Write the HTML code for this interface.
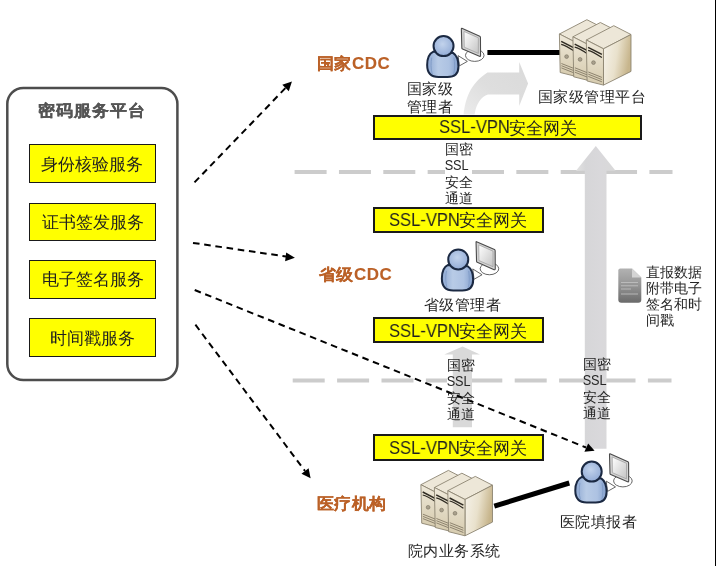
<!DOCTYPE html>
<html>
<head>
<meta charset="utf-8">
<style>
html,body{margin:0;padding:0;background:#fff;}
body{width:716px;height:566px;position:relative;overflow:hidden;font-family:"Liberation Sans",sans-serif;-webkit-font-smoothing:antialiased;}
svg.bg{position:absolute;left:0;top:0;}
.t{position:absolute;white-space:nowrap;line-height:1;will-change:transform;}
.bx{position:absolute;box-sizing:border-box;background:#ffff00;border:1.5px solid #1a1a1a;}
.sb{position:absolute;box-sizing:border-box;background:#ffff00;border:2px solid #1a1a1a;}
.bt{color:#1f1f1f;font-size:17px;}
.lat{color:#1f1f1f;font-size:18.5px;transform:scaleX(0.895);transform-origin:0 0;}
.or{color:#bb6127;font-weight:bold;font-size:16px;letter-spacing:0.5px;transform:scaleX(1.06);transform-origin:0 0;-webkit-text-stroke:0.1px #bb6127;}
.cap{color:#1f1f1f;font-size:15px;letter-spacing:0.45px;}
.sm{position:absolute;will-change:transform;width:40px;color:#262626;font-size:13.5px;line-height:16.1px;text-align:center;white-space:nowrap;}
.ssl{display:inline-block;font-size:15.5px;line-height:16.1px;transform:scaleX(0.82);transform-origin:50% 50%;position:relative;left:-2.2px;top:-0.8px;}
</style>
</head>
<body>
<svg class="bg" width="716" height="566" viewBox="0 0 716 566">
  <defs>
    <linearGradient id="gBody" x1="0" y1="0" x2="1" y2="0">
      <stop offset="0" stop-color="#8ea8d2"/>
      <stop offset="0.35" stop-color="#b8cbe6"/>
      <stop offset="0.7" stop-color="#adc2e2"/>
      <stop offset="1" stop-color="#829ecb"/>
    </linearGradient>
    <radialGradient id="gHead" cx="0.45" cy="0.4" r="0.6">
      <stop offset="0" stop-color="#c2d3ec"/>
      <stop offset="1" stop-color="#93acd6"/>
    </radialGradient>
    <linearGradient id="gScreen" x1="0" y1="0" x2="1" y2="1">
      <stop offset="0" stop-color="#ffffff"/>
      <stop offset="1" stop-color="#c4c4c4"/>
    </linearGradient>
    <linearGradient id="gSide" x1="0" y1="0" x2="1" y2="0.3">
      <stop offset="0" stop-color="#f7f4ec"/>
      <stop offset="0.55" stop-color="#e9e1cc"/>
      <stop offset="1" stop-color="#c7b58c"/>
    </linearGradient>
    <linearGradient id="gFront" x1="0" y1="0" x2="0" y2="1">
      <stop offset="0" stop-color="#efe9da"/>
      <stop offset="1" stop-color="#d6cbae"/>
    </linearGradient>
    <linearGradient id="gDoc" x1="0" y1="0" x2="0" y2="1">
      <stop offset="0" stop-color="#b2b2b2"/>
      <stop offset="0.5" stop-color="#949494"/>
      <stop offset="1" stop-color="#6a6a6a"/>
    </linearGradient>
    <linearGradient id="gCurve" x1="0" y1="1" x2="1" y2="0">
      <stop offset="0" stop-color="#ebebeb"/>
      <stop offset="0.45" stop-color="#dedede"/>
      <stop offset="1" stop-color="#dadada"/>
    </linearGradient>
    <linearGradient id="gShaft" x1="0" y1="0" x2="1" y2="0">
      <stop offset="0" stop-color="#e2e2e2"/>
      <stop offset="0.25" stop-color="#d6d6d8"/>
      <stop offset="0.6" stop-color="#d9d8db"/>
      <stop offset="1" stop-color="#d9d9d9"/>
    </linearGradient>

    <g id="user">
      <!-- keyboard -->
      <path d="M14.5,9.5 L23.8,15.3 L15.8,19.8 Z" fill="#fff" stroke="#555" stroke-width="0.9" stroke-linejoin="round"/>
      <!-- monitor base -->
      <ellipse cx="31.2" cy="9.3" rx="9.3" ry="6" fill="#fff" stroke="#555" stroke-width="0.9"/>
      <!-- monitor frame -->
      <path d="M18.3,-17.8 L36.2,-9.9 Q36.9,-9.5 36.9,-8.6 L37,9.4 Q37,10.6 35.9,10.2 L19,2.9 Q18.3,2.6 18.3,1.8 L17.8,-17.2 Q17.8,-18 18.3,-17.8 Z" fill="#d4d4d4" stroke="#4a4a4a" stroke-width="1.1" stroke-linejoin="round"/>
      <path d="M20.5,-14.6 L34.8,-8.3 L34.8,7.3 L20.7,1.1 Z" fill="url(#gScreen)" stroke="#9a9a9a" stroke-width="0.7"/>
      <!-- body -->
      <path d="M-10.2,5.5 C-14.5,7.5 -16.4,12.5 -16.4,19 C-16.4,26.5 -13,31 -5,31 L4,31 C11.5,31 14.9,27 14.9,20.5 C14.9,14 12.8,9 9.5,6.8 Z" fill="url(#gBody)" stroke="#1b2942" stroke-width="2" stroke-linejoin="round"/>
      <path d="M-11.8,11.5 C-12.8,16.5 -12.8,23 -11.3,28" fill="none" stroke="#7f9bc6" stroke-width="0.9"/>
      <path d="M10.4,11.5 C11.3,16.5 11.3,23 10.2,28" fill="none" stroke="#7f9bc6" stroke-width="0.9"/>
      <!-- head -->
      <circle cx="0" cy="0" r="10" fill="url(#gHead)" stroke="#1b2942" stroke-width="2"/>
    </g>

    <g id="towerL">
      <path d="M0,0 L27.5,-14.3 L44.7,-5.5 L17.2,8.8 Z" fill="#ede7d8" stroke="#8c8472" stroke-width="0.9" stroke-linejoin="round"/>
      <path d="M17.2,8.8 L44.7,-5.5 L44.7,28.9 L17.2,42.6 Z" fill="url(#gSide)" stroke="#8c8472" stroke-width="0.9" stroke-linejoin="round"/>
      <path d="M0,0 L17.2,8.8 L17.2,42.6 L0.8,38.5 Z" fill="url(#gFront)" stroke="#8c8472" stroke-width="0.9" stroke-linejoin="round"/>
      <path d="M1.8,7.3 L15.6,14.4" stroke="#2e2a22" stroke-width="1.5"/>
      <path d="M1.8,10.3 C6,11.2 11,14.5 15.6,17.6" fill="none" stroke="#2e2a22" stroke-width="1.2"/>
      <circle cx="7.2" cy="22.6" r="1.9" fill="#a9a08c" stroke="#6d6656" stroke-width="0.5"/>
      <path d="M2,29.5 L15.6,34.9 M2,31.7 L15.6,37.1 M2,33.9 L15.6,39.3" stroke="#857b66" stroke-width="0.9"/>
    </g>
    <g id="towerM">
      <path d="M0,0 L27.5,-14.3 L44.7,-5.5 L17.2,8.8 Z" fill="#ede7d8" stroke="#8c8472" stroke-width="0.9" stroke-linejoin="round"/>
      <path d="M17.2,8.8 L44.7,-5.5 L44.7,30.4 L17.2,44.1 Z" fill="url(#gSide)" stroke="#8c8472" stroke-width="0.9" stroke-linejoin="round"/>
      <path d="M0,0 L17.2,8.8 L17.2,44.1 L0.8,40.0 Z" fill="url(#gFront)" stroke="#8c8472" stroke-width="0.9" stroke-linejoin="round"/>
      <path d="M1.8,7.3 L15.6,14.4" stroke="#2e2a22" stroke-width="1.5"/>
      <path d="M1.8,10.3 C6,11.2 11,14.5 15.6,17.6" fill="none" stroke="#2e2a22" stroke-width="1.2"/>
      <circle cx="7.2" cy="22.6" r="1.9" fill="#a9a08c" stroke="#6d6656" stroke-width="0.5"/>
      <path d="M2,31.0 L15.6,36.4 M2,33.2 L15.6,38.6 M2,35.4 L15.6,40.8" stroke="#857b66" stroke-width="0.9"/>
    </g>
    <g id="towerR">
      <path d="M0,0 L27.5,-14.3 L44.7,-5.5 L17.2,8.8 Z" fill="#ede7d8" stroke="#8c8472" stroke-width="0.9" stroke-linejoin="round"/>
      <path d="M17.2,8.8 L44.7,-5.5 L44.7,31.4 L17.2,45.1 Z" fill="url(#gSide)" stroke="#8c8472" stroke-width="0.9" stroke-linejoin="round"/>
      <path d="M0,0 L17.2,8.8 L17.2,45.1 L0.8,41.0 Z" fill="url(#gFront)" stroke="#8c8472" stroke-width="0.9" stroke-linejoin="round"/>
      <path d="M1.8,7.3 L15.6,14.4" stroke="#2e2a22" stroke-width="1.5"/>
      <path d="M1.8,10.3 C6,11.2 11,14.5 15.6,17.6" fill="none" stroke="#2e2a22" stroke-width="1.2"/>
      <circle cx="7.2" cy="22.6" r="1.9" fill="#a9a08c" stroke="#6d6656" stroke-width="0.5"/>
      <path d="M2,32.0 L15.6,37.4 M2,34.2 L15.6,39.6 M2,36.4 L15.6,41.8" stroke="#857b66" stroke-width="0.9"/>
    </g>
    
    <g id="server">
      <use href="#towerL" transform="translate(559.4,34)"/>
      <use href="#towerM" transform="translate(572.9,36.8)"/>
      <use href="#towerR" transform="translate(586.3,40)"/>
    </g>
  </defs>

  <!-- outer rounded box -->
  <rect x="7.3" y="88" width="170.1" height="292" rx="16" ry="16" fill="#fff" stroke="#4d4d4d" stroke-width="2.5"/>
  <!-- gray dashed separators -->
  <line x1="294.6" y1="172" x2="672.5" y2="172" stroke="#cccccc" stroke-width="4" stroke-dasharray="32 12.35"/>
  <line x1="292.7" y1="380.6" x2="671.5" y2="380.6" stroke="#cccccc" stroke-width="4" stroke-dasharray="32 12.4"/>
  <!-- big vertical gray arrow -->
  <polygon points="595.8,146 615.6,170.8 606.5,170.8 606.5,448.8 584.8,448.8 584.8,170.8 576,170.8" fill="url(#gShaft)"/>
  <!-- white box behind top text -->
  <rect x="445" y="142" width="26.5" height="64" fill="#fff"/>
  <rect x="447" y="376" width="6" height="9" fill="#fff"/>
  <!-- small middle gray arrow -->
  <polygon points="462.6,346.5 480,354.6 472,354.6 472,427.3 452.8,427.3 452.8,354.6 444.2,354.6" fill="#d9d9d9"/>
  <!-- curved gray arrow -->
  <path d="M463.6,114.5 C465.3,99 470,84 487.4,72.5 L519.2,72.5 L519.2,62 L528.1,83.6 L519.2,106 L519.2,94.4 L488,94.4 C481,96.5 476,104 474.6,114.5 Z" fill="url(#gCurve)"/>
  <!-- black lines -->
  <line x1="487.4" y1="52.5" x2="562" y2="52.5" stroke="#000" stroke-width="5"/>
  <line x1="494.3" y1="506.2" x2="569.3" y2="483" stroke="#000" stroke-width="5"/>
  <!-- dashed arrows -->
  <g stroke="#000" stroke-width="2" stroke-dasharray="6.6 4.7" fill="none">
    <line x1="194.5" y1="182.4" x2="286" y2="87.5"/>
    <line x1="193" y1="242.9" x2="286" y2="256.5"/>
    <line x1="194.7" y1="290" x2="586" y2="447.5"/>
    <line x1="195.4" y1="324.7" x2="305" y2="471"/>
  </g>
  <g fill="#000">
    <polygon points="291.9,81.4 282.3,84.8 288.8,91.3"/>
    <polygon points="294.9,257.8 286.2,252.5 285.1,261.2"/>
    <polygon points="594.6,450.8 584.4,451.7 588.2,443.5"/>
    <polygon points="310.6,478.2 301.5,473.8 308.6,468.2"/>
  </g>

  <!-- servers -->
  <use href="#server"/>
  <use href="#server" transform="translate(-138.5,450.7)"/>

  <!-- users -->
  <use href="#user" transform="translate(443.55,46.1)"/>
  <use href="#user" transform="translate(458.25,259.45)"/>
  <use href="#user" transform="translate(591.7,471.6)"/>

  <!-- document icon -->
  <path d="M618.3,270.5 Q618.3,268.5 620.3,268.5 L632,268.5 L641.3,277.6 L641.3,299.7 Q641.3,302.7 638.3,302.7 L621.3,302.7 Q618.3,302.7 618.3,299.7 Z" fill="url(#gDoc)"/>
  <path d="M632,268.5 L632,277.6 L641.3,277.6 Z" fill="#d4d4d4"/>
  <g stroke="#c4c4c4" stroke-width="1" opacity="0.8">
    <line x1="621" y1="282.5" x2="638" y2="282.5"/>
    <line x1="621" y1="285.8" x2="638" y2="285.8"/>
    <line x1="621" y1="289" x2="631" y2="289"/>
    <line x1="621" y1="294" x2="638" y2="294"/>
  </g>
</svg>

<div class="t" style="left:38.4px;top:103.2px;font-size:16px;letter-spacing:1px;transform:scaleX(1.06);transform-origin:0 0;font-weight:bold;color:#555555;-webkit-text-stroke:0.2px #555555;">密码服务平台</div>
<div class="bx" style="left:28.7px;top:144px;width:127.3px;height:39.3px;"></div>
<div class="bx" style="left:28.7px;top:202.7px;width:127.3px;height:38.2px;"></div>
<div class="bx" style="left:28.7px;top:259.9px;width:127.3px;height:38.8px;"></div>
<div class="bx" style="left:28.7px;top:317.7px;width:127.3px;height:39.1px;"></div>
<div class="t bt" style="left:41.3px;top:155.6px;">身份核验服务</div>
<div class="t bt" style="left:41.7px;top:213.5px;">证书签发服务</div>
<div class="t bt" style="left:41.7px;top:271.1px;">电子签名服务</div>
<div class="t bt" style="left:49.5px;top:329.8px;">时间戳服务</div>

<div class="sb" style="left:373px;top:114.9px;width:269.2px;height:24.8px;"></div>
<div class="sb" style="left:373px;top:207.2px;width:170.8px;height:26.2px;"></div>
<div class="sb" style="left:373px;top:317px;width:170.8px;height:26.4px;"></div>
<div class="sb" style="left:373px;top:434.2px;width:170.8px;height:26.4px;"></div>
<div class="t lat" style="left:438.6px;top:118.2px;">SSL-VPN</div>
<div class="t lat" style="left:389.1px;top:211.1px;">SSL-VPN</div>
<div class="t lat" style="left:389.1px;top:321.7px;">SSL-VPN</div>
<div class="t lat" style="left:389.1px;top:438.9px;">SSL-VPN</div>
<div class="t bt" style="left:508.6px;top:119.5px;">安全网关</div>
<div class="t bt" style="left:459.1px;top:212.4px;">安全网关</div>
<div class="t bt" style="left:459.1px;top:323px;">安全网关</div>
<div class="t bt" style="left:459.1px;top:440.2px;">安全网关</div>

<div class="t or" style="left:317.3px;top:55.9px;">国家CDC</div>
<div class="t or" style="left:318.6px;top:266.6px;">省级CDC</div>
<div class="t or" style="left:316.9px;top:495.6px;">医疗机构</div>

<div class="t cap" style="left:406.8px;top:79.8px;line-height:17.6px;">国家级<br>管理者</div>
<div class="t cap" style="left:537.9px;top:88.6px;">国家级管理平台</div>
<div class="t cap" style="left:424.3px;top:296.8px;">省级管理者</div>
<div class="t cap" style="left:560.3px;top:514.3px;">医院填报者</div>
<div class="t cap" style="left:408.3px;top:542.7px;">院内业务系统</div>

<div class="sm" style="left:438.5px;top:141.8px;">国密<br><span class="ssl">SSL</span><br>安全<br>通道</div>
<div class="sm" style="left:441.2px;top:358.3px;">国密<br><span class="ssl">SSL</span><br>安全<br>通道</div>
<div class="sm" style="left:577.2px;top:356.5px;">国密<br><span class="ssl">SSL</span><br>安全<br>通道</div>

<div class="t" style="left:646.2px;top:264.4px;font-size:13.9px;line-height:16.13px;color:#262626;">直报数据<br>附带电子<br>签名和时<br>间戳</div>

<div style="position:absolute;left:715px;top:0;width:1px;height:566px;background:#000;"></div>
</body>
</html>
